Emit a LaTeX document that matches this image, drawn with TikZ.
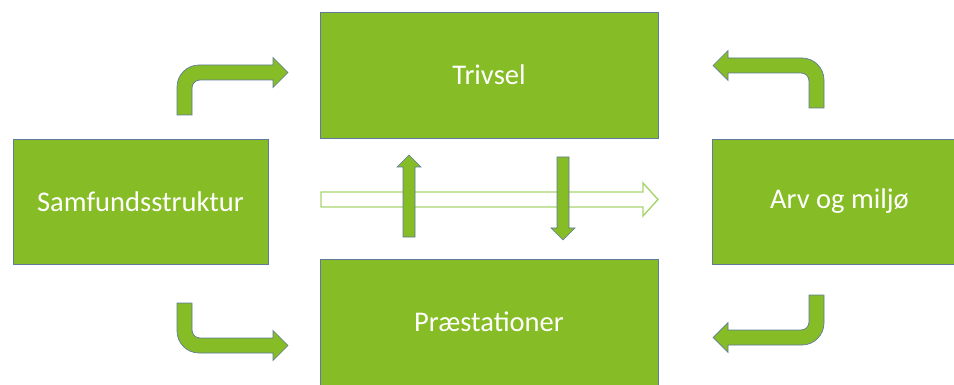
\documentclass[tikz,border=0pt]{standalone}
\usepackage{fontspec}
\setmainfont{Carlito}
\usepackage{tikz}
\usetikzlibrary{positioning}

\definecolor{leaf}{RGB}{134,188,37}
\definecolor{edge}{RGB}{96,122,158}
\definecolor{pale}{RGB}{168,212,110}

\tikzset{
  box/.style={draw=edge, line width=0.7pt, fill=leaf, text=white,
    minimum width=255pt, minimum height=125pt, inner sep=0pt,
    font=\fontsize{28.5}{32}\selectfont},
  wide/.style={box, minimum width=338pt, minimum height=126pt},
  blockarrow/.style={draw=edge, line width=0.7pt, fill=leaf},
  bentarrow/.pic={
    \draw[blockarrow] (0,0) -- (0,-28)
      .. controls (0,-40.1) and (9.9,-50) .. (22,-50)
      -- (96,-50) -- (96,-57.5) -- (111,-42.5) -- (96,-27.5) -- (96,-35)
      -- (23,-35) .. controls (18.6,-35) and (15,-31.4) .. (15,-27)
      -- (15,0) -- cycle;
  }
}

\begin{document}
\begin{tikzpicture}[x=1pt, y=-1pt]
      \clip (0,0) rectangle (954,385);
      \node[wide] (trivsel) at (489, 75) {Trivsel};
      \node[wide] (praest) at (489, 322) {Præstationer};
      \node[box] (samf) at (140.5, 201.5) {Samfundsstruktur};
      \node[box] (arv) at (839.5, 201.5) {Arv og miljø};
      % hollow arrow across the middle
      \draw[pale, line width=1.4pt, fill=white] (321,192) -- (643,192) -- (643,183)
        -- (658,199.5) -- (643,216) -- (643,207) -- (321,207) -- cycle;
      % up and down
      \draw[blockarrow] (403,237) -- (403,167) -- (397,167) -- (409,155)
        -- (421,167) -- (415,167) -- (415,237) -- cycle;
      \draw[blockarrow] (557,157) -- (557,228) -- (551,228) -- (563,240)
        -- (575,228) -- (569,228) -- (569,157) -- cycle;
      % bent arrows
      \pic at (177,115) {bentarrow};
      \pic[xscale=-1] at (824,108) {bentarrow};
      \pic[yscale=-1] at (177,303) {bentarrow};
      \pic[xscale=-1, yscale=-1] at (824,295) {bentarrow};
    \end{tikzpicture}
\end{document}
